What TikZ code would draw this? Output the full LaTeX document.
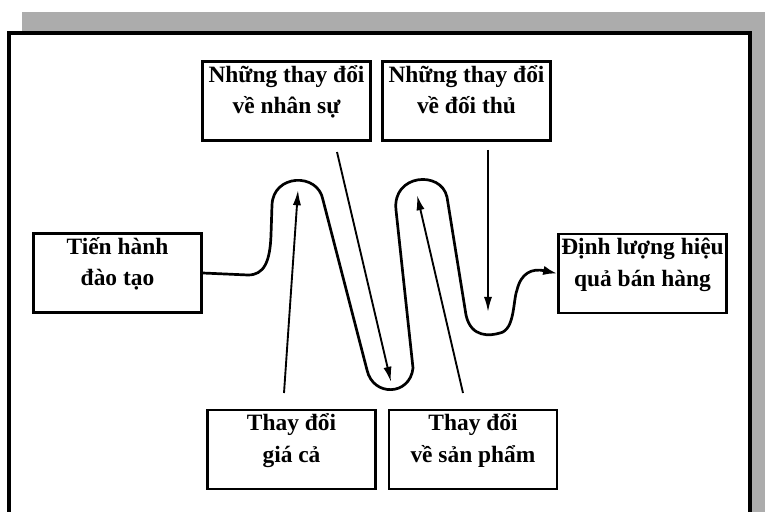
\documentclass[tikz,border=0pt]{standalone}
\usepackage{fontspec}
\setmainfont{Liberation Serif}
\usetikzlibrary{arrows.meta,positioning}

\tikzset{
  box/.style={draw, line width=2.2pt, minimum width=5.04cm,
              minimum height=2.37cm, inner sep=0pt},
  box text/.style={font=\fontsize{20}{27}\selectfont\bfseries,
                   align=center, inner sep=0pt, text height=42pt,
                   anchor=north, yshift=-3.5pt},
  wave/.style={line width=2.3pt, line cap=round, line join=round,
               -{Latex[length=12pt,width=8pt]}},
  push arrow/.style={line width=1.6pt, -{Latex[length=13pt,width=7pt]}},
}
\colorlet{shadecol}{gray!65}

\begin{document}
\begin{tikzpicture}[x=0.03cm, y=-0.03cm]
    \useasboundingbox (0,0) rectangle (765,512);
    % Layout: frame with grey shadow, six boxes round a zig-zag path
    % pixel units, y runs downwards

    % --- frame ---
    \fill[shadecol] (22,12) rectangle (770,530);
    \filldraw[fill=white, line width=2.6pt] (9,33) rectangle (750,540);

    % --- boxes ---
    \node[box] (ns) at (286.5,101) {};
    \node[box] (dt) at (466.5,101) {};
    \node[box] (th) at (117.5,273) {};
    \node[box] (dl) at (642.5,273.5) {};
    \node[box] (gc) at (291.5,449.5) {};
    \node[box] (sp) at (473,449.5) {};

    \node[box text] (ns-t) at (ns.north) {Những thay đổi\\về nhân sự};
    \node[box text] (dt-t) at (dt.north) {Những thay đổi\\về đối thủ};
    \node[box text] (th-t) at (th.north) {Tiến hành\\đào tạo};
    \node[box text] (dl-t) at (dl.north) {Định lượng hiệu\\quả bán hàng};
    \node[box text] (gc-t) at (gc.north) {Thay đổi\\giá cả};
    \node[box text] (sp-t) at (sp.north) {Thay đổi\\về sản phẩm};

    % --- zig-zag path ---
    \draw[wave] (th.east) -- (248,275)
      .. controls (264,275) and (270,262) .. (271,235)
      -- (272,205)
      .. controls (273,174) and (318,172) .. (323,200)
      -- (367,370)
      .. controls (373,397) and (410,396) .. (413,368)
      -- (396,210)
      .. controls (392,174) and (441,170) .. (447,197)
      -- (466,315)
      .. controls (471,338) and (490,336) .. (500,333)
      .. controls (515,330) and (513,300) .. (517,290)
      .. controls (521,273) and (532,268) .. (dl.west);

    % --- outside influences ---
    \coordinate (ns-out) at (337,152);
    \coordinate (dt-out) at (488,150);
    \coordinate (gc-out) at (284,393);
    \coordinate (sp-out) at (463,393);
    \coordinate (valley) at (391,382);
    \coordinate (dip) at (488,312);
    \coordinate (hump1) at (298,190);
    \coordinate (hump2) at (417,195);

    \draw[push arrow] (ns-out) -- (valley);
    \draw[push arrow] (dt-out) -- (dip);
    \draw[push arrow] (gc-out) -- (hump1);
    \draw[push arrow] (sp-out) -- (hump2);
\end{tikzpicture}
\end{document}
